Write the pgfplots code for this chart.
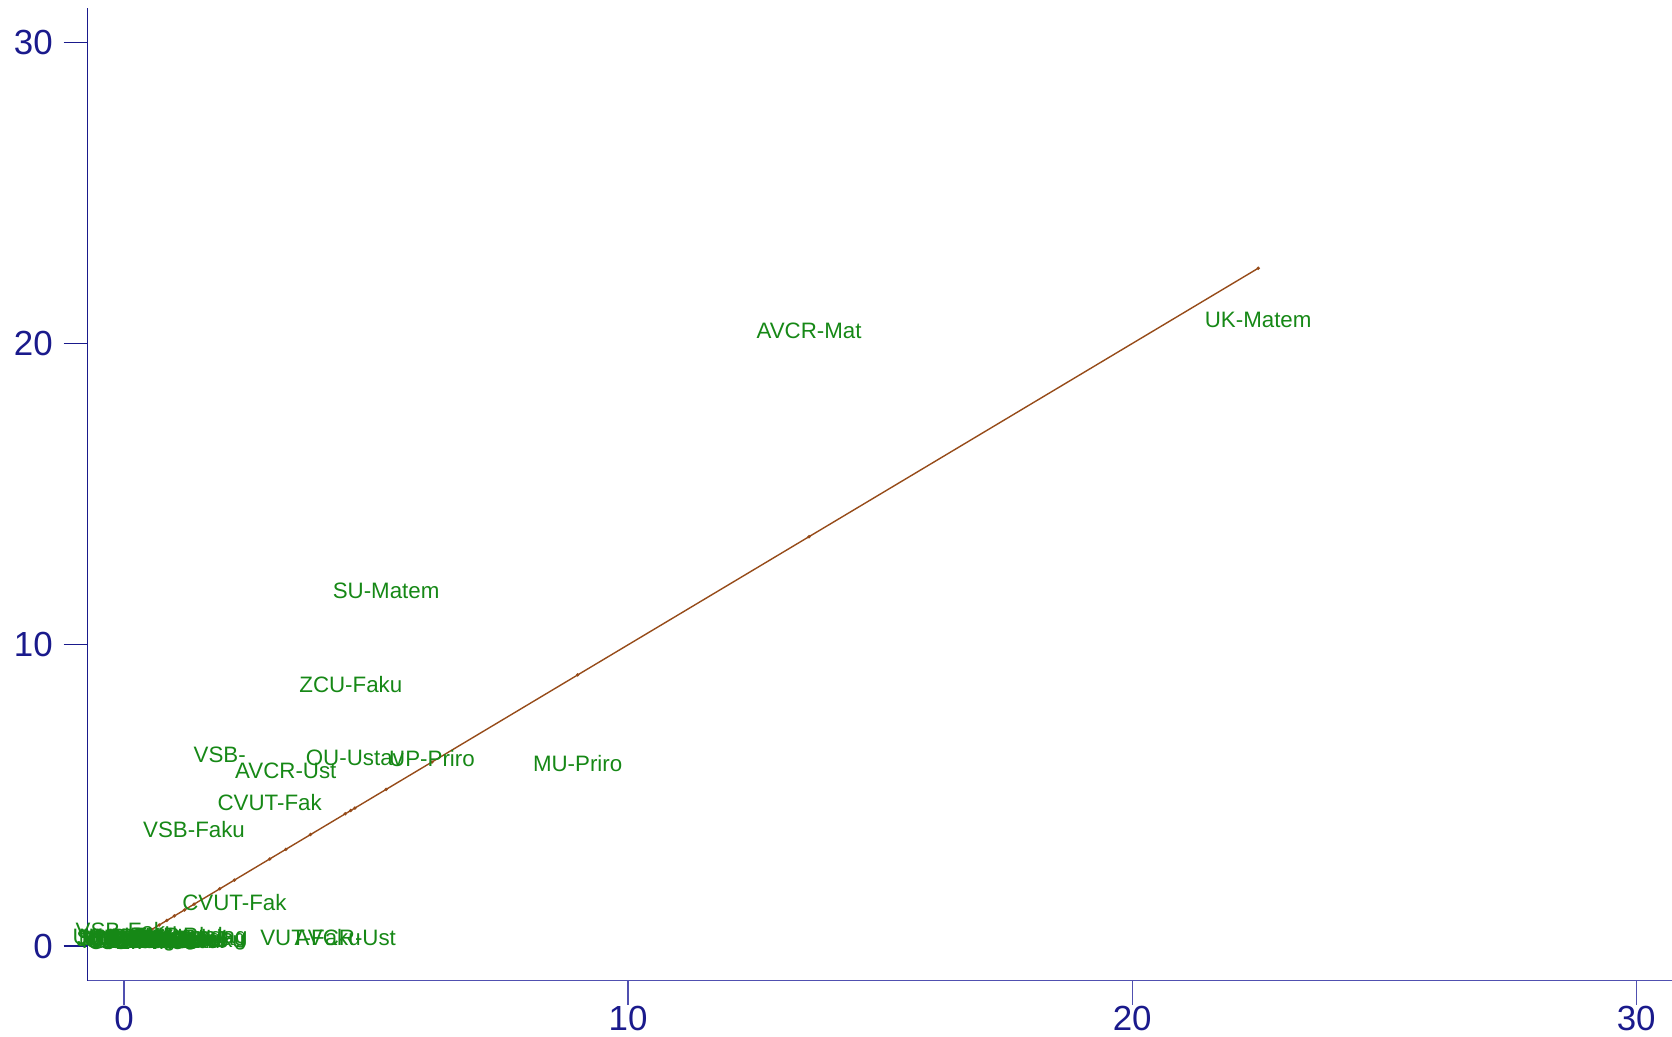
\documentclass[border=0pt]{standalone}
\usepackage{fontspec}
\setmainfont{Liberation Sans}
\usepackage{pgfplots}
\usepackage{pgfplotstable}
\pgfplotsset{compat=1.18}
\definecolor{navyc}{RGB}{26,26,140}
\definecolor{xaxc}{RGB}{80,80,176}
\definecolor{labg}{RGB}{22,136,22}
\definecolor{linec}{RGB}{150,75,25}
\pgfplotstableread{
x y label
22.5 20.78 UK-Matem
13.59 20.43 AVCR-Mat
5.20 11.80 SU-Matem
4.50 8.68 ZCU-Faku
1.90 6.34 VSB-
3.21 5.81 AVCR-Ust
4.58 6.24 OU-Ustav
6.11 6.24 UP-Priro
9.00 6.06 MU-Priro
2.89 4.78 CVUT-Fak
1.39 3.86 VSB-Faku
2.19 1.46 CVUT-Fak
3.70 0.27 VUT-Faku
4.39 0.27 AVCR-Ust
0.05 0.50 VSB-Faku
0.00 0.24 UK-Pedag
0.04 0.18 JU-Pedag
0.08 0.28 UHK-Prir
0.12 0.20 TUL-Fakul
0.16 0.24 MU-Pedag
0.20 0.16 UJEP-Pri
0.24 0.28 SLU-Matem
0.28 0.22 UTB-Fakul
0.32 0.18 CZU-Fakul
0.36 0.26 UPa-Fakul
0.40 0.20 OU-Pedag
0.45 0.24 UK-Pedag
0.50 0.16 JU-Prirod
0.55 0.28 UHK-Fakul
0.60 0.22 TUL-Fakul
0.65 0.18 MU-Fakul
0.70 0.26 UJEP-Ped
0.76 0.20 SLU-Fakul
0.82 0.24 UTB-Ustav
0.88 0.18 CZU-Techn
0.94 0.26 UPa-Pedag
1.00 0.22 VSB-Faku
1.08 0.20 UK-Fakul
1.16 0.24 JU-Fakul
1.25 0.20 UHK-Pedag
1.32 0.26 TUL-Pedag
1.39 0.22 VSB-Faku
}\labdata
\begin{document}
\begin{tikzpicture}
\begin{axis}[
  at={(43.85bp,28.15bp)}, anchor=south west,
  scale only axis, width=792.15bp, height=486.35bp,
  xmin=-0.72, xmax=30.71, ymin=-1.15, ymax=31.14,
  axis lines*=left,
  clip=false,
  xtick={0,10,20,30}, ytick={0,10,20,30},
  tick align=outside,
  major tick length=12bp,
  x axis line style={color=xaxc, line width=0.65pt},
  y axis line style={color=navyc, line width=0.65pt},
  x tick style={color=xaxc, line width=0.65pt},
  y tick style={color=navyc, line width=0.65pt},
  /pgf/number format/assume math mode=true,
  ticklabel style={font=\fontsize{17.5}{19}\selectfont, text=navyc},
  yticklabel style={xshift=-2bp},
  xticklabel style={yshift=3bp},
]
\addplot[color=linec, line width=0.7pt, mark=*, mark size=0.45pt] coordinates {
(0,0) (0.1,0.1) (0.2,0.2) (0.3,0.3) (0.4,0.4) (0.55,0.55) (0.7,0.7) (0.85,0.85)
(1.0,1.0) (1.2,1.2) (1.39,1.39) (1.9,1.9) (2.19,2.19) (2.89,2.89) (3.21,3.21)
(3.7,3.7) (4.39,4.39) (4.5,4.5) (4.58,4.58) (5.2,5.2) (6.11,6.11) (9,9)
(13.59,13.59) (22.5,22.5)};
\addplot[draw=none, nodes near coords, point meta=explicit symbolic,
  nodes near coords style={anchor=center, inner sep=0pt, text=labg,
  font=\fontsize{11.2}{12}\selectfont}]
  table[x=x, y=y, meta=label] {\labdata};
\end{axis}
\pgfresetboundingbox
\path[use as bounding box] (0,0) rectangle (836bp,518.5bp);
\end{tikzpicture}
\end{document}
